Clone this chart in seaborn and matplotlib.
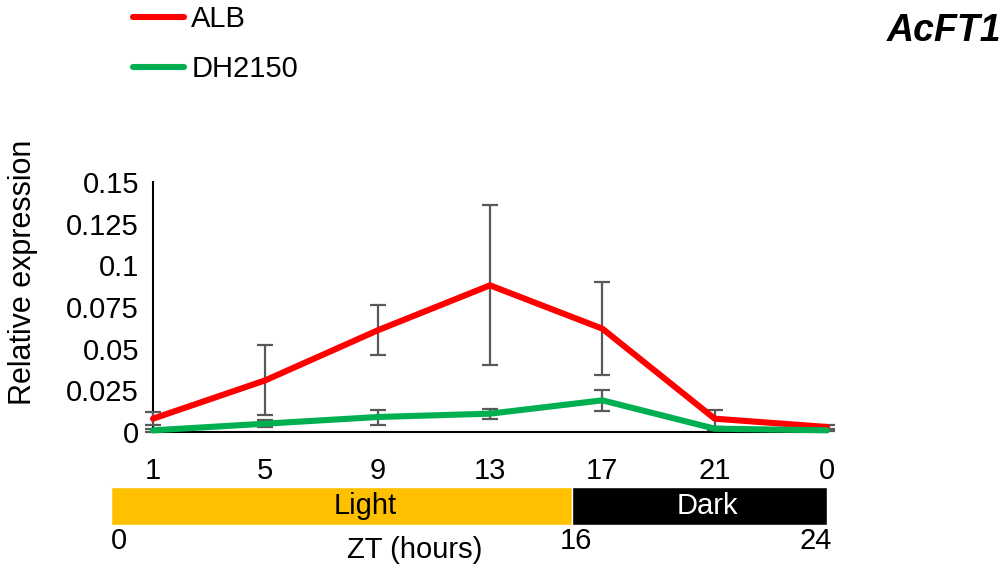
import numpy as np
import pandas as pd
import matplotlib
matplotlib.use("Agg")
import matplotlib.pyplot as plt
import matplotlib.transforms as mtransforms
import seaborn as sns
from matplotlib.lines import Line2D

# Sampling times (ZT) and expression values
zt_labels = ["1", "5", "9", "13", "17", "21", "0"]
alb_mean = [0.008, 0.031, 0.061, 0.088, 0.062, 0.008, 0.003]
alb_err = [0.004, 0.021, 0.015, 0.048, 0.028, 0.005, 0.001]
dh_mean = [0.001, 0.005, 0.009, 0.011, 0.019, 0.002, 0.001]
dh_err = [0.001, 0.002, 0.0045, 0.003, 0.0065, 0.001, 0.0005]
genotypes = ["ALB", "DH2150"]
colors = {"ALB": "#FF0000", "DH2150": "#00B050"}
y_ticks = [0, 0.025, 0.05, 0.075, 0.1, 0.125, 0.15]
y_tick_labels = ["0", "0.025", "0.05", "0.075", "0.1", "0.125", "0.15"]
phase_bounds = [0, 16, 24]
phase_names = ["Light", "Dark"]
phase_colors = ["#FFC000", "#000000"]

sns.set_theme(style="white")
plt.rcParams["font.family"] = ["Liberation Sans", "DejaVu Sans"]
plt.rcParams["text.color"] = "black"
plt.rcParams["axes.labelcolor"] = "black"

FS = 21

pos = np.arange(len(zt_labels))
df = pd.DataFrame({
    "pos": np.concatenate([pos, pos]),
    "value": alb_mean + dh_mean,
    "err": alb_err + dh_err,
    "genotype": [genotypes[0]] * len(pos) + [genotypes[1]] * len(pos),
})

W, H = 1008, 572
fig = plt.figure(figsize=(W / 100, H / 100), dpi=100)
ax = fig.add_axes([153 / W, 1 - 432 / H, (827 - 153) / W, (432 - 182) / H])


def px_shift(dx, dy=0):
    return mtransforms.ScaledTranslation(dx / 100, dy / 100, fig.dpi_scale_trans)


# error bars first, lines on top
for g in genotypes:
    sub = df[df.genotype == g]
    ax.errorbar(sub["pos"], sub["value"], yerr=sub["err"], fmt="none",
                ecolor="#595959", elinewidth=1.6, capsize=6, capthick=1.6, zorder=2)

sns.lineplot(data=df, x="pos", y="value", hue="genotype", palette=colors,
             linewidth=4.4, ax=ax, legend=False, zorder=3)

ax.set_xlim(pos[0], pos[-1])
ax.set_ylim(0, 0.15)
ax.set_xticks(pos)
ax.set_xticklabels(zt_labels, fontsize=FS)
ax.set_yticks(y_ticks)
ax.set_yticklabels(y_tick_labels, fontsize=FS)
ax.tick_params(axis="x", direction="out", length=8, width=1.5, pad=10, colors="black")
ax.tick_params(axis="y", direction="out", length=7, width=1.5, pad=3, colors="black")
ax.set_xlabel("")
ax.set_ylabel("Relative expression", fontsize=22)
ax.yaxis.set_label_coords((38 - 153) / (827 - 153), (432 - 272) / (432 - 182))
for side in ["top", "right"]:
    ax.spines[side].set_visible(False)
for side in ["left", "bottom"]:
    ax.spines[side].set_color("black")
    ax.spines[side].set_linewidth(1.5)
    ax.spines[side].set_zorder(1)
for ln in ax.lines:
    ln.set_clip_on(False)
for coll in ax.collections:
    coll.set_clip_on(False)

# Light / dark photoperiod bar (the light segment takes a wider share of the strip)
split = 461 / 716
hours = np.array(phase_bounds, dtype=float)
frac = np.array([0.0, split, 1.0])


def fwd(x):
    return np.interp(x, hours, frac)


def inv(y):
    return np.interp(y, frac, hours)


bar = fig.add_axes([111 / W, 1 - 525 / H, (827 - 111) / W, 38 / H])
bar.set_xscale("function", functions=(fwd, inv))
label_shift = [24, 8]
for i, name in enumerate(phase_names):
    start, end = phase_bounds[i], phase_bounds[i + 1]
    bar.barh(0, end - start, left=start, height=1, color=phase_colors[i])
    mid = inv((fwd(start) + fwd(end)) / 2)
    bar.text(mid, 0, name, ha="center", va="center", fontsize=FS,
             color="black" if i == 0 else "white",
             transform=bar.transData + px_shift(label_shift[i]))
bar.set_xlim(0, 24)
bar.set_ylim(-0.5, 0.5)
bar.axis("off")
bar.text(0, -0.55, "0", ha="left", va="top", fontsize=FS)
bar.text(16, -0.55, "16", ha="left", va="top", fontsize=FS,
         transform=bar.transData + px_shift(-12))
bar.text(24, -0.55, "24", ha="right", va="top", fontsize=FS,
         transform=bar.transData + px_shift(5))
fig.text(415 / W, 1 - 550 / H, "ZT (hours)", ha="center", va="center", fontsize=FS)

# Legend and gene name
handles = [Line2D([0], [0], color=colors[g], linewidth=4.4, solid_capstyle="round")
           for g in genotypes]
fig.legend(handles, genotypes, loc="upper left", bbox_to_anchor=(133 / W, 1 - 5 / H),
           frameon=False, fontsize=FS, handlelength=1.75, handletextpad=0.25,
           labelspacing=0.75, borderpad=0, borderaxespad=0)
fig.text(1001 / W, 1 - 31 / H, "AcFT1", ha="right", va="center",
         fontsize=27, fontweight="bold", fontstyle="italic")

fig.savefig("out.png", dpi=100, facecolor="white")
